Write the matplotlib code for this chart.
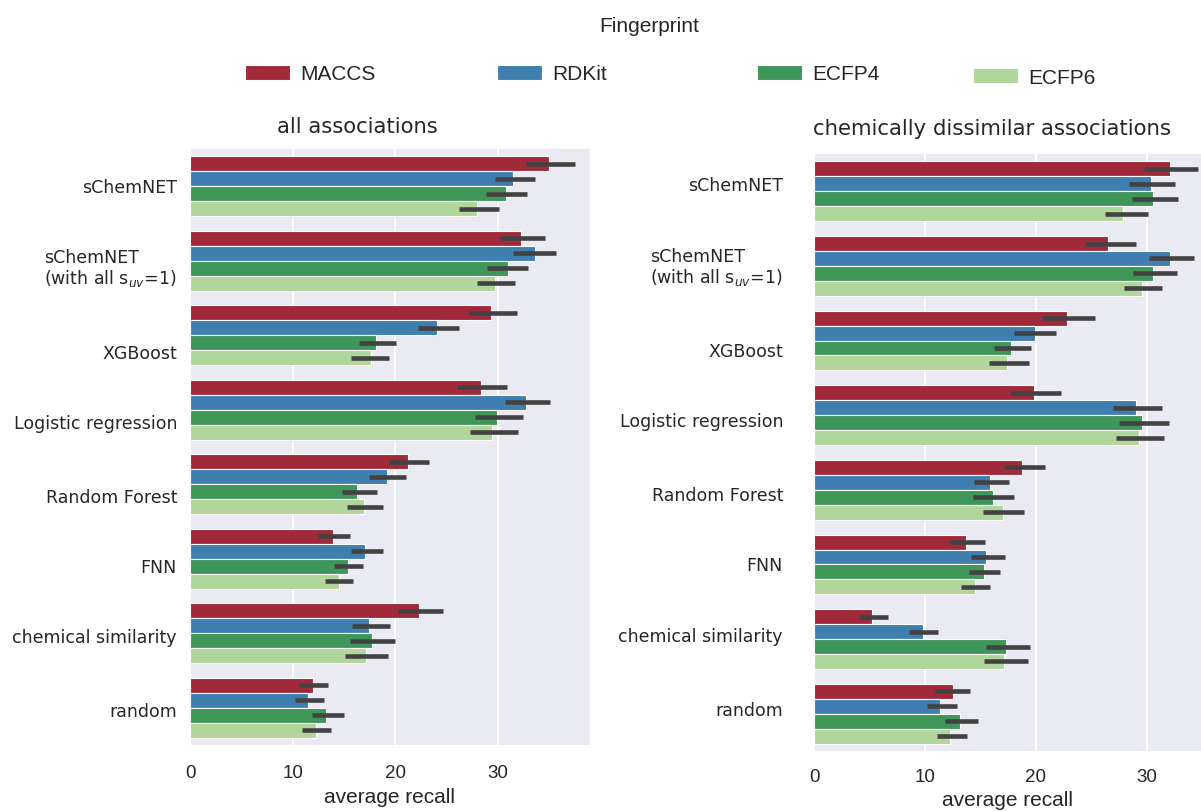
import matplotlib
matplotlib.use("Agg")
import matplotlib.pyplot as plt
import matplotlib.transforms as mtrans
from matplotlib.patches import Patch
import numpy as np

# ---------------- data ----------------
methods = ["sChemNET", "sChemNET\n(with all s$_{uv}$=1)", "XGBoost", "Logistic regression",
           "Random Forest", "FNN", "chemical similarity", "random"]
fingerprints = ["MACCS", "RDKit", "ECFP4", "ECFP6"]
colors = ["#a12a3a", "#3f7fb0", "#3f9659", "#b1d69b"]

# all associations: mean, CI low, CI high  (rows: methods, cols: MACCS, RDKit, ECFP4, ECFP6)
all_mean = [[35.0, 31.5, 30.8, 28.0],
            [32.3, 33.6, 31.0, 29.7],
            [29.3, 24.1, 18.1, 17.6],
            [28.4, 32.8, 29.9, 29.4],
            [21.3, 19.2, 16.3, 17.0],
            [13.9, 17.1, 15.4, 14.5],
            [22.3, 17.5, 17.7, 17.2],
            [12.0, 11.5, 13.3, 12.3]]
all_lo = [[32.8, 29.7, 28.9, 26.2],
          [30.2, 31.5, 29.0, 28.0],
          [27.2, 22.2, 16.5, 15.7],
          [26.0, 30.7, 27.8, 27.3],
          [19.4, 17.5, 14.8, 15.3],
          [12.5, 15.7, 14.0, 13.2],
          [20.3, 15.8, 15.6, 15.1],
          [10.6, 10.2, 11.9, 10.9]]
all_hi = [[37.5, 33.6, 32.9, 30.1],
          [34.6, 35.7, 33.0, 31.7],
          [31.9, 26.2, 20.1, 19.4],
          [30.9, 35.1, 32.5, 32.0],
          [23.3, 21.1, 18.2, 18.8],
          [15.6, 18.8, 16.9, 15.9],
          [24.7, 19.5, 20.0, 19.3],
          [13.5, 13.1, 15.0, 13.7]]

# chemically dissimilar associations
dis_mean = [[32.1, 30.4, 30.6, 27.9],
            [26.5, 32.1, 30.6, 29.6],
            [22.8, 19.9, 17.8, 17.4],
            [19.8, 29.0, 29.6, 29.3],
            [18.8, 15.9, 16.1, 17.0],
            [13.7, 15.5, 15.3, 14.5],
            [5.2, 9.8, 17.3, 17.1],
            [12.5, 11.4, 13.2, 12.3]]
dis_lo = [[29.8, 28.4, 28.7, 26.2],
          [24.4, 30.2, 28.8, 28.0],
          [20.6, 18.0, 16.2, 15.8],
          [17.7, 27.0, 27.5, 27.2],
          [17.1, 14.4, 14.3, 15.2],
          [12.3, 14.2, 14.0, 13.3],
          [4.1, 8.6, 15.5, 15.3],
          [10.9, 10.2, 11.8, 11.1]]
dis_hi = [[34.6, 32.6, 32.8, 30.1],
          [29.0, 34.3, 32.7, 31.4],
          [25.3, 21.8, 19.6, 19.4],
          [22.3, 31.4, 32.0, 31.6],
          [20.8, 17.6, 18.0, 18.9],
          [15.4, 17.2, 16.8, 15.9],
          [6.7, 11.2, 19.5, 19.3],
          [14.1, 12.9, 14.8, 13.8]]

x_ticks = [0, 10, 20, 30]

# label layout nudges (pixels downward from category centre)
left_label_dy = [0.5, 7, 18, 13, 13, 8, 4, 3]
right_label_dy = [-6.4, 1, 10.5, 6.2, 5.3, 1, -3.4, -4.1]

# ---------------- figure ----------------
W, H = 1201, 812
fig = plt.figure(figsize=(W / 100, H / 100), dpi=100)
plt.rcParams["mathtext.fontset"] = "dejavusans"

def fx(px):
    return px / W

def fy(py):
    return 1 - py / H

ax1 = fig.add_axes([fx(190), fy(746), fx(400), 596 / H])
ax2 = fig.add_axes([fx(814), fy(752), fx(387), 597 / H])

def draw(ax, mean, lo, hi, xmax, label_gap, label_dy, xpad):
    mean = np.array(mean)
    lo = np.array(lo)
    hi = np.array(hi)
    n = len(methods)
    ax.set_facecolor("#eaeaf2")
    bw = 0.2
    for j, fp in enumerate(fingerprints):
        pos = np.arange(n) - 0.4 + bw * (j + 0.5)
        ax.barh(pos, mean[:, j], height=bw, color=colors[j], edgecolor="white",
                linewidth=0.8, zorder=2)
        ax.errorbar(mean[:, j], pos, xerr=[mean[:, j] - lo[:, j], hi[:, j] - mean[:, j]],
                    fmt="none", ecolor="#424242", elinewidth=3.3, capsize=0, zorder=3)
    ax.set_ylim(n - 0.5, -0.5)
    ax.set_xlim(0, xmax)
    ax.set_yticks(np.arange(n))
    ax.tick_params(axis="y", length=0, labelleft=False)
    base = mtrans.blended_transform_factory(ax.transAxes, ax.transData)
    for i, m in enumerate(methods):
        tr = base + mtrans.ScaledTranslation(-label_gap / 100, -label_dy[i] / 100,
                                              fig.dpi_scale_trans)
        ax.text(0, i, m, transform=tr, ha="right", va="center", multialignment="left",
                fontsize=12.5, family="DejaVu Sans", color="#262626", linespacing=1.05)
    ax.set_xticks(x_ticks)
    ax.set_xticklabels([str(t) for t in x_ticks], fontsize=13.5,
                       family="Liberation Sans", color="#262626")
    ax.tick_params(axis="x", length=0, pad=xpad)
    ax.grid(axis="x", color="white", linewidth=1.5, zorder=0)
    ax.grid(axis="y", visible=False)
    ax.set_axisbelow(True)
    for s in ax.spines.values():
        s.set_visible(False)
    ax.set_xlabel("average recall", fontsize=15, family="Liberation Sans",
                  color="#262626", labelpad=4)

draw(ax1, all_mean, all_lo, all_hi, 39.0, 13, left_label_dy, 14)
draw(ax2, dis_mean, dis_lo, dis_hi, 34.9, 31, right_label_dy, 12)

fig.text(fx(357.5), fy(127), "all associations", ha="center", va="center",
         fontsize=15.2, family="DejaVu Sans", color="#262626")
fig.text(fx(992), fy(129), "chemically dissimilar associations", ha="center", va="center",
         fontsize=15.3, family="DejaVu Sans", color="#262626")

# legend
fig.text(fx(649), fy(27), "Fingerprint", ha="center", va="center",
         fontsize=15, family="Liberation Sans", color="#262626")
leg_x = [245, 497, 757, 973]
leg_y = [75, 75, 75, 78]
for j, fp in enumerate(fingerprints):
    leg = fig.legend([Patch(facecolor=colors[j], edgecolor="white", linewidth=0.8)], [fp],
                     loc="center left", bbox_to_anchor=(fx(leg_x[j]), fy(leg_y[j])),
                     frameon=False, borderpad=0, borderaxespad=0, handlelength=2.15,
                     handleheight=0.75, handletextpad=0.5,
                     prop={"family": "Liberation Sans", "size": 15})
    for t in leg.get_texts():
        t.set_color("#262626")

fig.savefig("out.png", dpi=100)
